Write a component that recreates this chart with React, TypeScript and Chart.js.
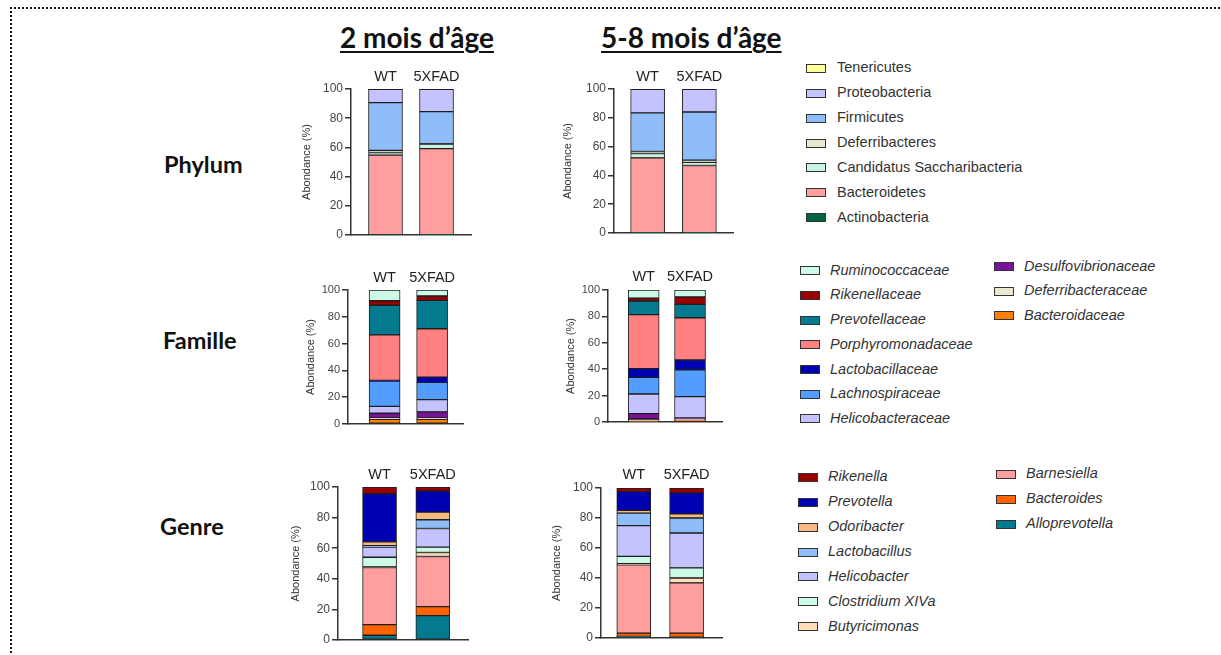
import React, { useEffect, useRef } from "react";
import { Chart, registerables } from "chart.js";

Chart.register(...registerables);

// ---------- text ----------
const groupLabels = ["WT", "5XFAD"];
const yAxisTitle = "Abondance (%)";
const ageTitles = ["2 mois d\u2019âge", "5-8 mois d\u2019âge"];
const levelLabels = ["Phylum", "Famille", "Genre"];

// ---------- Phylum (stack order, bottom -> top) ----------
const phylumNames = [
  "Actinobacteria",
  "Bacteroidetes",
  "Candidatus Saccharibacteria",
  "Deferribacteres",
  "Firmicutes",
  "Proteobacteria",
  "Tenericutes",
];
const phylumColors = ["#00663d", "#ff9e9e", "#c8f5e3", "#ebe6cf", "#8ebdfa", "#c5c3ff", "#ffff99"];
const phylum2mWT = [0.2, 54.5, 1.8, 1.5, 32.7, 9.0, 0.3];
const phylum2m5XFAD = [0.1, 59.1, 3.0, 0.3, 22.0, 15.2, 0.3];
const phylum58mWT = [0.1, 52.1, 3.0, 1.4, 26.8, 16.4, 0.2];
const phylum58m5XFAD = [0.1, 46.8, 2.1, 1.6, 33.4, 15.8, 0.2];

// ---------- Famille (stack order, bottom -> top) ----------
const familleNames = [
  "Bacteroidaceae",
  "Deferribacteraceae",
  "Desulfovibrionaceae",
  "Helicobacteraceae",
  "Lachnospiraceae",
  "Lactobacillaceae",
  "Porphyromonadaceae",
  "Prevotellaceae",
  "Rikenellaceae",
  "Ruminococcaceae",
];
const familleColors = [
  "#ff8000",
  "#ece8d1",
  "#7a1199",
  "#c5c3ff",
  "#529dff",
  "#0000b3",
  "#ff8080",
  "#047a8f",
  "#990000",
  "#ccfae6",
];
const famille2mWT = [3.5, 1.0, 3.5, 5.2, 18.8, 0.5, 34.0, 22.1, 3.4, 8.0];
const famille2m5XFAD = [3.5, 1.0, 4.5, 9.2, 12.9, 3.9, 36.1, 21.2, 3.2, 4.5];
const famille58mWT = [0.5, 1.8, 4.0, 14.9, 12.6, 6.6, 40.9, 10.4, 2.2, 6.1];
const famille58m5XFAD = [1.5, 0.5, 1.0, 16.2, 20.4, 7.4, 32.0, 10.1, 5.6, 5.3];

// ---------- Genre (stack order, bottom -> top) ----------
const genreNames = [
  "Alloprevotella",
  "Bacteroides",
  "Barnesiella",
  "Butyricimonas",
  "Clostridium XIVa",
  "Helicobacter",
  "Lactobacillus",
  "Odoribacter",
  "Prevotella",
  "Rikenella",
];
const genreColors = [
  "#047a8f",
  "#ff6200",
  "#ff9e9e",
  "#ffdcba",
  "#ccfae6",
  "#c5c3ff",
  "#8ebdfa",
  "#f5b985",
  "#0000b3",
  "#990000",
];
const genre2mWT = [3.1, 6.9, 37.4, 0.6, 6.1, 6.6, 1.0, 2.5, 31.4, 4.4];
const genre2m5XFAD = [15.9, 5.9, 32.8, 2.6, 3.5, 12.2, 5.7, 5.0, 13.8, 2.6];
const genre58mWT = [1.1, 2.2, 45.4, 0.8, 4.9, 20.5, 8.4, 1.8, 12.5, 2.4];
const genre58m5XFAD = [0.6, 2.7, 33.4, 3.3, 6.7, 23.3, 10.0, 2.7, 14.0, 3.3];

const FONT = "'Liberation Sans', Arial, Helvetica, sans-serif";

type PanelSpec = {
  names: string[];
  colors: string[];
  wt: number[];
  fad: number[];
  left: number;
  right: number;
  top: number;
  bottom: number;
  xMin: number;
  xMax: number;
  bar: number;
  titleGap: number;
  tick: number;
  labelPad: number;
};

const panels: PanelSpec[] = [
  { names: phylumNames, colors: phylumColors, wt: phylum2mWT, fad: phylum2m5XFAD, left: 351, right: 471, top: 89, bottom: 235, xMin: -0.676, xMax: 1.676, bar: 34, titleGap: 44, tick: 12, labelPad: 3 },
  { names: phylumNames, colors: phylumColors, wt: phylum58mWT, fad: phylum58m5XFAD, left: 614, right: 733, top: 89, bottom: 233, xMin: -0.65, xMax: 1.65, bar: 34, titleGap: 46, tick: 12, labelPad: 3 },
  { names: familleNames, colors: familleColors, wt: famille2mWT, fad: famille2m5XFAD, left: 348, right: 463, top: 290, bottom: 424, xMin: -0.77, xMax: 1.65, bar: 31, titleGap: 37, tick: 11, labelPad: 3 },
  { names: familleNames, colors: familleColors, wt: famille58mWT, fad: famille58m5XFAD, left: 608, right: 722, top: 290, bottom: 422, xMin: -0.77, xMax: 1.69, bar: 31, titleGap: 37, tick: 11, labelPad: 4 },
  { names: genreNames, colors: genreColors, wt: genre2mWT, fad: genre2m5XFAD, left: 338, right: 468, top: 487, bottom: 640, xMin: -0.78, xMax: 1.66, bar: 34, titleGap: 42, tick: 12, labelPad: 3.5 },
  { names: genreNames, colors: genreColors, wt: genre58mWT, fad: genre58m5XFAD, left: 601, right: 722, top: 488, bottom: 638, xMin: -0.62, xMax: 1.67, bar: 34, titleGap: 44, tick: 12, labelPad: 4.5 },
];

function StackedPanel({ s }: { s: PanelSpec }) {
  const ref = useRef<HTMLCanvasElement | null>(null);
  const T = 30;
  const B = 14;
  const R = 6;
  const W = Math.round(s.titleGap + 7);
  const cw = W + (s.right - s.left) + R;
  const ch = T + (s.bottom - s.top) + B;

  useEffect(() => {
    if (!ref.current) return;
    const chart = new Chart(ref.current, {
      type: "bar",
      data: {
        datasets: s.names.map((name, k) => ({
          label: name,
          data: [s.wt[k], s.fad[k]].map((v, i) => ({ x: i, y: v })),
          backgroundColor: s.colors[k],
          borderColor: "#1e1e1e",
          borderWidth: 1,
          borderSkipped: false,
          barThickness: s.bar,
          xAxisID: "x",
          yAxisID: "y",
        })),
      },
      options: {
        responsive: false,
        maintainAspectRatio: false,
        animation: false,
        events: [],
        layout: { padding: { left: 0, top: 0, right: R, bottom: 0 } },
        plugins: {
          legend: { display: false },
          tooltip: { enabled: false },
          title: { display: false },
        },
        scales: {
          x: {
            type: "linear",
            axis: "x",
            position: "bottom",
            stacked: true,
            offset: false,
            min: s.xMin,
            max: s.xMax,
            grid: { display: false, offset: false, drawTicks: false },
            ticks: { display: false },
            border: { display: true, color: "#333", width: 1.5 },
            afterFit: (sc: any) => {
              sc.height = B;
            },
          },
          xTop: {
            type: "linear",
            axis: "x",
            position: "top",
            offset: false,
            min: s.xMin,
            max: s.xMax,
            grid: { display: false, offset: false, drawTicks: false },
            border: { display: false },
            afterBuildTicks: (sc: any) => {
              sc.ticks = groupLabels.map((_, i) => ({ value: i }));
            },
            ticks: {
              autoSkip: false,
              maxRotation: 0,
              minRotation: 0,
              padding: s.labelPad,
              color: "#222",
              font: { family: FONT, size: 14.5 },
              callback: (v: any) => groupLabels[Number(v)] ?? "",
            },
            afterFit: (sc: any) => {
              sc.height = T;
            },
          },
          y: {
            type: "linear",
            position: "left",
            stacked: true,
            min: 0,
            max: 100,
            border: { display: true, color: "#333", width: 1.5 },
            grid: { drawOnChartArea: false, drawTicks: true, tickLength: 6, color: "#333", lineWidth: 1.5 },
            ticks: { stepSize: 20, padding: 2, color: "#444", font: { family: FONT, size: s.tick } },
            title: { display: true, text: yAxisTitle, padding: 0, color: "#333", font: { family: FONT, size: 11 } },
            afterFit: (sc: any) => {
              sc.width = W;
            },
          },
        },
      } as any,
    });
    return () => chart.destroy();
  }, []);

  return (
    <canvas
      ref={ref}
      width={cw}
      height={ch}
      style={{ position: "absolute", left: s.left - W, top: s.top - T, width: cw, height: ch }}
    />
  );
}

type LegendCol = { names: string[]; colors: string[]; swatchX: number; textX: number; firstY: number; step: number; italic: boolean };

function LegendColumn({ c }: { c: LegendCol }) {
  return (
    <>
      {c.names.map((n, i) => {
        const cy = c.firstY + i * c.step;
        return (
          <React.Fragment key={n}>
            <div
              style={{
                position: "absolute",
                left: c.swatchX,
                top: cy - 4.5,
                width: 20,
                height: 9,
                boxSizing: "border-box",
                border: "1.5px solid #333",
                background: c.colors[i],
              }}
            />
            <div
              style={{
                position: "absolute",
                left: c.textX,
                top: cy - 9,
                height: 18,
                lineHeight: "18px",
                font: `${c.italic ? "italic " : ""}14.5px ${FONT}`,
                color: "#333",
                whiteSpace: "nowrap",
              }}
            >
              {n}
            </div>
          </React.Fragment>
        );
      })}
    </>
  );
}

function topDown(names: string[], colors: string[]) {
  return { n: [...names].reverse(), c: [...colors].reverse() };
}

export default function App() {
  const ph = topDown(phylumNames, phylumColors);
  const fa = topDown(familleNames, familleColors);
  const ge = topDown(genreNames, genreColors);

  const legends: LegendCol[] = [
    { names: ph.n, colors: ph.c, swatchX: 806, textX: 837, firstY: 68.3, step: 24.9, italic: false },
    { names: fa.n.slice(0, 7), colors: fa.c.slice(0, 7), swatchX: 800, textX: 830, firstY: 270.7, step: 24.7, italic: true },
    { names: fa.n.slice(7), colors: fa.c.slice(7), swatchX: 994, textX: 1024, firstY: 266.7, step: 24.5, italic: true },
    { names: ge.n.slice(0, 7), colors: ge.c.slice(0, 7), swatchX: 798, textX: 828, firstY: 477.3, step: 24.9, italic: true },
    { names: ge.n.slice(7), colors: ge.c.slice(7), swatchX: 996, textX: 1026, firstY: 474, step: 25.2, italic: true },
  ];

  const titleStyle: React.CSSProperties = {
    position: "absolute",
    top: 23,
    font: "700 28px Lato, 'Open Sans', sans-serif",
    lineHeight: "28px",
    textDecoration: "underline",
    textDecorationThickness: "2px",
    textUnderlineOffset: "3px",
    color: "#111",
    whiteSpace: "nowrap",
  };
  const rowStyle: React.CSSProperties = {
    position: "absolute",
    font: "700 23.5px Lato, 'Open Sans', sans-serif",
    lineHeight: "24px",
    color: "#111",
    whiteSpace: "nowrap",
  };

  return (
    <div
      style={{
        position: "fixed",
        left: 0,
        top: 0,
        width: 1221,
        height: 655,
        overflow: "hidden",
        background: "#fff",
      }}
    >
      <div
        style={{
          position: "absolute",
          left: 10,
          top: 7,
          width: 1400,
          height: 900,
          borderTop: "2px dotted #111",
          borderLeft: "2px dotted #111",
        }}
      />
      <div style={{ ...titleStyle, left: 340 }}>{ageTitles[0]}</div>
      <div style={{ ...titleStyle, left: 601 }}>{ageTitles[1]}</div>
      <div style={{ ...rowStyle, left: 164, top: 152 }}>{levelLabels[0]}</div>
      <div style={{ ...rowStyle, left: 163, top: 328 }}>{levelLabels[1]}</div>
      <div style={{ ...rowStyle, left: 160, top: 514 }}>{levelLabels[2]}</div>
      {panels.map((p, i) => (
        <StackedPanel key={i} s={p} />
      ))}
      {legends.map((c, i) => (
        <LegendColumn key={i} c={c} />
      ))}
    </div>
  );
}
